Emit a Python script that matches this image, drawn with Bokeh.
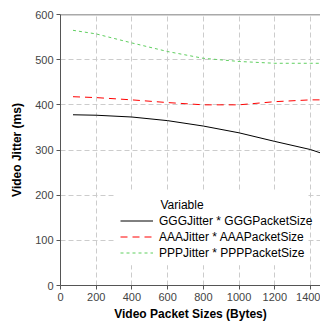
from bokeh.plotting import figure
from bokeh.models import (Range1d, FixedTicker, Legend, LegendItem, Label,
                          BoxAnnotation, Span)
from bokeh.embed import file_html
from bokeh.resources import INLINE

# Data
packet_sizes = [70, 200, 400, 600, 800, 1000, 1200, 1400, 1460]
ggg_jitter = [378, 377, 373, 365, 353, 338, 319, 301, 293]
aaa_jitter = [418, 416, 411, 405, 400, 400, 407, 411, 411]
ppp_jitter = [565, 557, 537, 518, 503, 496, 492, 492, 492]
series_names = ["GGGJitter * GGGPacketSize", "AAAJitter * AAAPacketSize",
                "PPPJitter * PPPPacketSize"]
x_ticks = [0, 200, 400, 600, 800, 1000, 1200, 1400]
y_ticks = [0, 100, 200, 300, 400, 500, 600]

FONT = "Liberation Sans"

p = figure(width=320, height=323, output_backend="svg", toolbar_location=None,
           x_range=Range1d(0, 1456), y_range=Range1d(0, 600),
           min_border_left=60, min_border_right=0, min_border_top=14,
           min_border_bottom=38)
p.outline_line_color = None
p.background_fill_color = "white"

for ax in (p.xaxis[0], p.yaxis[0]):
    ax.axis_line_color = "#555555"
    ax.major_tick_line_color = "#555555"
    ax.major_tick_out = 4
    ax.major_tick_in = 0
    ax.minor_tick_line_color = None
    ax.major_label_text_font = FONT
    ax.major_label_text_font_size = "11px"
    ax.major_label_text_color = "#444444"
    ax.axis_label_text_font = FONT
    ax.axis_label_text_font_size = "12px"
    ax.axis_label_text_font_style = "bold"
    ax.axis_label_text_color = "#000000"
    ax.major_label_standoff = 3

p.xaxis.ticker = FixedTicker(ticks=x_ticks)
p.yaxis.ticker = FixedTicker(ticks=y_ticks)
p.xaxis.axis_label = "Video Packet Sizes (Bytes)"
p.yaxis.axis_label = "Video Jitter (ms)"
p.xaxis.axis_label_standoff = 3
p.yaxis.axis_label_standoff = 8

p.xgrid.ticker = FixedTicker(ticks=x_ticks)
p.ygrid.ticker = FixedTicker(ticks=y_ticks)
for g in (p.xgrid[0], p.ygrid[0]):
    g.grid_line_color = "#cccccc"
    g.grid_line_dash = "5 3"
    g.grid_line_width = 1

# top border line
p.add_layout(Span(location=600, dimension="width", line_color="#555555",
                  line_width=1.5))

r1 = p.line(packet_sizes, ggg_jitter, line_color="#000000", line_width=1)
r2 = p.line(packet_sizes, aaa_jitter, line_color="#ff0000", line_width=1,
            line_dash="7 5")
r3 = p.line(packet_sizes, ppp_jitter, line_color="#5fcf5f", line_width=1,
            line_dash="3 3")

# legend background box
p.add_layout(BoxAnnotation(left=308, right=1380, bottom=45, top=208,
                           fill_color="white", fill_alpha=1.0,
                           line_color=None, level="underlay"))

legend = Legend(items=[LegendItem(label=series_names[0], renderers=[r1]),
                       LegendItem(label=series_names[1], renderers=[r2]),
                       LegendItem(label=series_names[2], renderers=[r3])],
                location=(60, 25), border_line_color=None,
                background_fill_alpha=0, glyph_width=33, glyph_height=15,
                label_height=15, label_standoff=6, spacing=1, padding=5,
                margin=0, label_text_font=FONT, label_text_font_size="12px",
                label_text_color="#000000")
p.add_layout(legend)

p.add_layout(Label(x=100, y=81, x_units="screen", y_units="screen",
                   text="Variable", text_font=FONT, text_font_size="12px",
                   text_color="#000000", text_baseline="middle"))

open("out.html", "w").write(file_html(p, INLINE))
